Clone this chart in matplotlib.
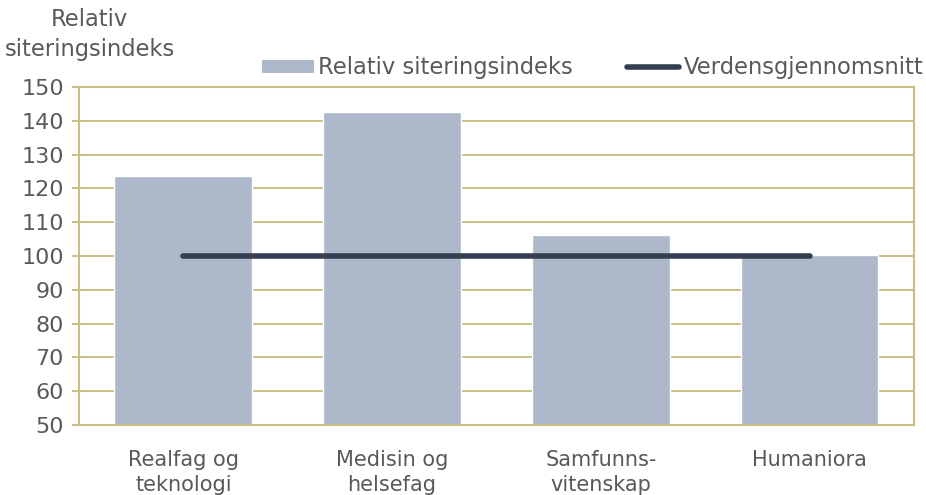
import numpy as np
import matplotlib.pyplot as plt
from matplotlib.patches import Patch
from matplotlib.lines import Line2D

# data
categories = ['Realfag og\nteknologi', 'Medisin og\nhelsefag', 'Samfunns-\nvitenskap', 'Humaniora']
citation_index = [123.8, 142.7, 106.3, 100.4]
world_average = [100, 100, 100, 100]

bar_color = '#adb8ca'
line_color = '#333f50'
grid_color = '#c9bd86'
text_color = '#595959'

plt.rcParams['font.family'] = 'DejaVu Sans'

fig = plt.figure(figsize=(9.26, 4.95), dpi=100)
ax = fig.add_axes([0.0853, 0.1414, 0.9017, 0.6828])

x = np.arange(len(categories))
ax.bar(x, citation_index, width=0.66, color=bar_color, edgecolor='white', linewidth=1, zorder=2)
ax.plot(x, world_average, color=line_color, linewidth=4, solid_capstyle='round', zorder=3)

ax.set_ylim(50, 150)
ax.set_xlim(-0.5, 3.5)
ax.set_yticks(range(50, 151, 10))
ax.set_xticks(x)
ax.set_xticklabels(categories, fontsize=15, color=text_color, linespacing=1.3)
ax.tick_params(axis='x', length=0, pad=18)
ax.tick_params(axis='y', length=5, width=1.4, color=grid_color, labelsize=16,
               labelcolor=text_color, pad=6)

ax.grid(axis='y', color=grid_color, linewidth=1.4, zorder=1)
ax.set_axisbelow(True)
for s in ax.spines.values():
    s.set_color(grid_color)
    s.set_linewidth(1.5)

fig.text(0.097, 0.96, 'Relativ', ha='center', va='center', fontsize=16.3, color=text_color)
fig.text(0.097, 0.899, 'siteringsindeks', ha='center', va='center', fontsize=16.3, color=text_color)

handles = [Patch(facecolor=bar_color, edgecolor='none'),
           Line2D([0], [0], color=line_color, linewidth=4, solid_capstyle='round')]
labels = ['Relativ siteringsindeks', 'Verdensgjennomsnitt']
fig.legend(handles, labels, loc='center', bbox_to_anchor=(0.640, 0.863), ncol=2, frameon=False,
           fontsize=16.3, handlelength=2.3, handleheight=0.5, handletextpad=0.2,
           columnspacing=2.4, labelcolor=text_color, borderpad=0)

plt.savefig('out.png', dpi=100)
